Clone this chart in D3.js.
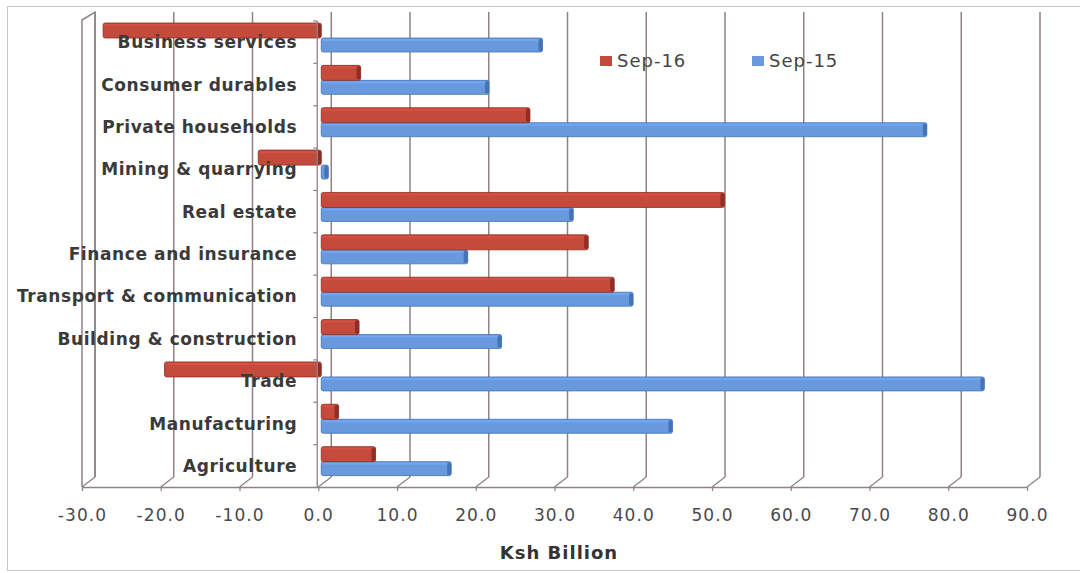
<!DOCTYPE html>
<html>
<head>
<meta charset="utf-8">
<script src="https://cdn.jsdelivr.net/npm/d3@7"></script>
<style>
  html, body { margin: 0; padding: 0; background: #fff; }
  svg { display: block; }
  .cat text { font-family: "DejaVu Sans", Verdana, sans-serif; font-weight: bold; font-size: 17px; fill: #3a3a3a; letter-spacing: 0.6px; }
  .val text { font-family: "DejaVu Sans", Verdana, sans-serif; font-size: 17px; fill: #4a4a4a; letter-spacing: 1.1px; }
</style>
</head>
<body>
<svg id="chart" width="1080" height="573"></svg>
<script>
// Credit by sector, Ksh billion (top of the chart first)
const categories = [
  "Business services", "Consumer durables", "Private households", "Mining & quarrying",
  "Real estate", "Finance and insurance", "Transport & communication",
  "Building & construction", "Trade", "Manufacturing", "Agriculture"
];
const sep16 = [-27.7, 5.0, 26.5, -8.0, 51.2, 33.9, 37.2, 4.8, -19.9, 2.2, 6.9];
const sep15 = [28.1, 21.3, 76.9, 0.9, 32.0, 18.6, 39.6, 22.9, 84.2, 44.6, 16.5];
const seriesNames = ["Sep-16", "Sep-15"];
const xTicks = [-30, -20, -10, 0, 10, 20, 30, 40, 50, 60, 70, 80, 90];
const axisTitle = "Ksh Billion";

const colors = { "Sep-16": "#c44a3b", "Sep-15": "#6899dd" };
const edge = { "Sep-16": "#8e2f25", "Sep-15": "#4473b6" };
const gridColor = "#8f8283";

const svg = d3.select("#chart");

// outer chart frame
svg.append("rect")
  .attr("x", 7.5).attr("y", 6.5).attr("width", 1090).attr("height", 564)
  .attr("fill", "none").attr("stroke", "#c8c8c8").attr("stroke-width", 1);

// front plane scales
const x = d3.scaleLinear().domain([-30, 90]).range([82, 1027]);
const y = d3.scaleBand().domain(categories).range([21, 487]);
const depthX = 13, depthY = -10;   // offset of the back wall
const floorY = 487, wallTop = 12;
const barShift = 3;                // bars sit slightly behind the front plane

// back-wall gridlines with the diagonal floor joints
const grid = svg.append("g");
xTicks.forEach(t => {
  const fx = x(t);
  grid.append("line")
    .attr("x1", fx + depthX).attr("x2", fx + depthX)
    .attr("y1", wallTop).attr("y2", floorY + depthY)
    .attr("stroke", gridColor).attr("stroke-width", 1.5);
  grid.append("line")
    .attr("x1", fx).attr("y1", floorY)
    .attr("x2", fx + depthX).attr("y2", floorY + depthY)
    .attr("stroke", gridColor).attr("stroke-width", 1.3);
});

// left side wall
const x0w = x(-30);
grid.append("path")
  .attr("d", `M${x0w},${floorY} L${x0w},${wallTop + 8} L${x0w + depthX},${wallTop} L${x0w + depthX},${floorY + depthY}`)
  .attr("fill", "none").attr("stroke", gridColor).attr("stroke-width", 1.5);

// bars
const bars = svg.append("g");
const layout = [
  { name: "Sep-16", values: sep16, top: 2, h: 15 },
  { name: "Sep-15", values: sep15, top: 17, h: 14 }
];
const bx = v => x(v) + barShift;
const cap = 4;
// draw blue first so the red bar's lower edge sits over it
[layout[1], layout[0]].forEach(s => {
  categories.forEach((c, i) => {
    const v = s.values[i];
    const left = Math.min(bx(0), bx(v));
    const right = Math.max(bx(0), bx(v));
    const yy = y(c) + s.top;
    const g = bars.append("g");
    g.append("rect")
      .attr("x", left).attr("y", yy)
      .attr("width", Math.max(1, right - left)).attr("height", s.h)
      .attr("rx", 2)
      .attr("fill", colors[s.name]).attr("stroke", edge[s.name]).attr("stroke-width", 0.8);
    // top face highlight
    g.append("rect")
      .attr("x", left + 1).attr("y", yy + 1)
      .attr("width", Math.max(0, right - left - cap - 1)).attr("height", 2)
      .attr("fill", d3.color(colors[s.name]).brighter(0.25));
    // right end face
    g.append("rect")
      .attr("x", right - cap).attr("y", yy + 1)
      .attr("width", Math.min(cap, right - left)).attr("height", s.h - 2)
      .attr("rx", 1.5)
      .attr("fill", edge[s.name]);
  });
});

// category axis at zero
const zx = x(0) - 1;
const catAxis = svg.append("g").attr("class", "cat");
catAxis.append("line")
  .attr("x1", zx).attr("x2", zx).attr("y1", y.range()[0]).attr("y2", floorY)
  .attr("stroke", gridColor).attr("stroke-width", 1.3);
categories.forEach(c => {
  catAxis.append("line")
    .attr("x1", zx - 4).attr("x2", zx).attr("y1", y(c)).attr("y2", y(c))
    .attr("stroke", gridColor).attr("stroke-width", 1.2);
});
const labelAxis = d3.axisLeft(y).tickSize(0).tickPadding(20);
const la = svg.append("g").attr("class", "cat").attr("transform", `translate(${zx},0)`).call(labelAxis);
la.select(".domain").remove();
la.selectAll("text").attr("dy", "0.36em");

// value axis along the front floor edge (plain hyphen for negatives)
const fmt = d3.format(".1f");
const valAxis = d3.axisBottom(x).tickValues(xTicks)
  .tickFormat(d => fmt(d).replace("\u2212", "-"))
  .tickSizeInner(4).tickSizeOuter(0).tickPadding(18);
const va = svg.append("g").attr("class", "val").attr("transform", `translate(0,${floorY})`).call(valAxis);
va.select(".domain").attr("stroke", gridColor).attr("stroke-width", 1.3);
va.selectAll(".tick line").attr("stroke", gridColor).attr("stroke-width", 1.2);

// axis title
svg.append("text")
  .attr("x", 559).attr("y", 559)
  .attr("text-anchor", "middle")
  .attr("font-family", "DejaVu Sans, Verdana, sans-serif")
  .attr("font-weight", "bold").attr("font-size", 18).attr("fill", "#333")
  .attr("letter-spacing", 1)
  .text(axisTitle);

// legend
const legend = svg.append("g");
const legendPos = [{ name: seriesNames[0], x: 600 }, { name: seriesNames[1], x: 752 }];
legendPos.forEach(l => {
  legend.append("rect").attr("x", l.x).attr("y", 56).attr("width", 12).attr("height", 10)
    .attr("fill", colors[l.name]);
  legend.append("text").attr("x", l.x + 17).attr("y", 67)
    .attr("font-family", "DejaVu Sans, Verdana, sans-serif")
    .attr("font-size", 18).attr("fill", "#444").attr("letter-spacing", 1)
    .text(l.name);
});
</script>
</body>
</html>
